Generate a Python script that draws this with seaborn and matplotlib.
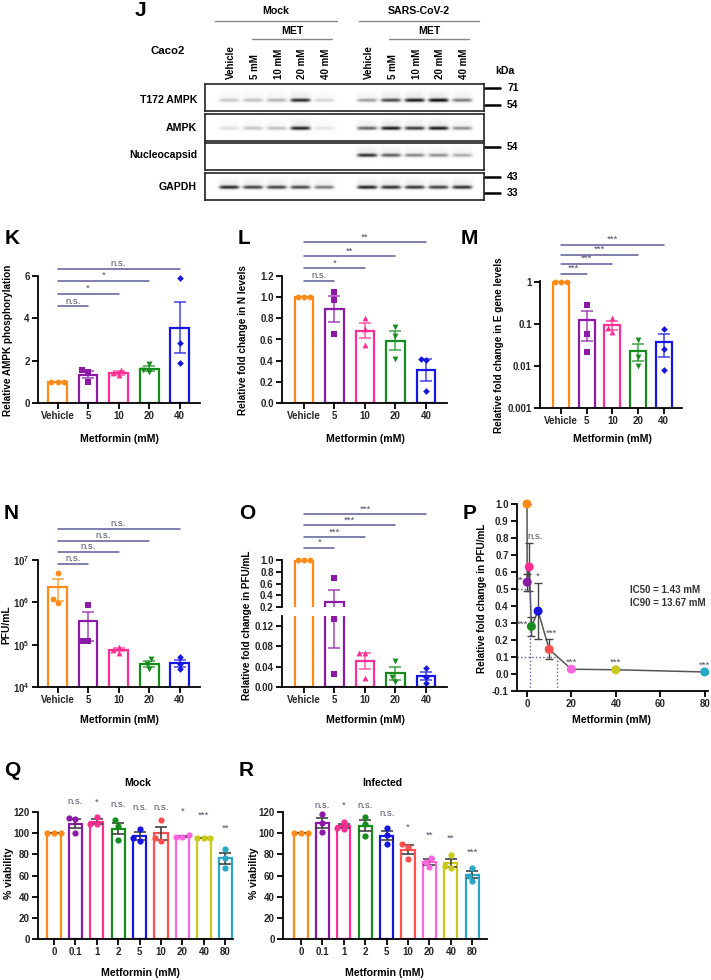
import numpy as np
import pandas as pd
import matplotlib
matplotlib.use("Agg")
import matplotlib.pyplot as plt
import seaborn as sns
from matplotlib.ticker import NullLocator

W, H = 711, 980

# ---------------- data ----------------
# J: band intensities (0 = none, 1 = strongest); 5 Mock lanes then 5 SARS-CoV-2 lanes
lane_names = ["Vehicle", "5 mM", "10 mM", "20 mM", "40 mM"]
blot_rows = ["T172 AMPK", "AMPK", "Nucleocapsid", "GAPDH"]
band_t172 = [0.35, 0.38, 0.42, 0.90, 0.28, 0.50, 0.80, 0.95, 1.00, 0.62]
band_ampk = [0.22, 0.35, 0.38, 0.92, 0.20, 0.70, 0.95, 0.85, 0.95, 0.55]
band_nucleo = [0.0, 0.0, 0.0, 0.0, 0.0, 0.88, 0.72, 0.58, 0.55, 0.45]
band_gapdh = [0.90, 0.82, 0.82, 0.80, 0.62, 0.92, 0.88, 0.86, 0.82, 0.88]
kda_labels = ["71", "54", "54", "43", "33"]

# K-O: three replicates per group
met_groups = ["Vehicle", "5", "10", "20", "40"]
ampk_phos = [[1.0, 1.0, 1.0], [1.55, 1.0, 1.45], [1.55, 1.3, 1.4], [1.85, 1.45, 1.55], [5.9, 2.85, 1.9]]
n_levels = [[1.0, 1.0, 1.0], [1.05, 0.97, 0.65], [0.80, 0.70, 0.55], [0.72, 0.63, 0.42], [0.42, 0.41, 0.11]]
e_gene = [[1.0, 1.0, 1.0], [0.28, 0.057, 0.021], [0.14, 0.08, 0.065], [0.042, 0.016, 0.010], [0.076, 0.025, 0.008]]
pfu = [[4.8e6, 1.2e6, 0.97e6], [8.5e5, 1.23e5, 1.2e5], [9.0e4, 7.5e4, 6.5e4], [4.5e4, 3.5e4, 2.6e4], [5.0e4, 3.5e4, 2.6e4]]
pfu_fold = [[1.0, 1.0, 1.0], [0.69, 0.135, 0.025], [0.068, 0.068, 0.018], [0.052, 0.020, 0.010], [0.037, 0.020, 0.008]]

# P: dose response
dose_mm = [0, 0.1, 1, 2, 5, 10, 20, 40, 80]
dose_mean = [1.0, 0.54, 0.63, 0.28, 0.37, 0.145, 0.028, 0.025, 0.012]
dose_sem = [0.0, 0.05, 0.14, 0.055, 0.165, 0.058, 0.004, 0.004, 0.004]
dose_sig = ["", "**", "n.s.", "***", "*", "***", "***", "***", "***"]
ic50, ic90 = 1.43, 13.67

# Q, R: viability
dose_labels = ["0", "0.1", "1", "2", "5", "10", "20", "40", "80"]
via_mock = [[100, 100, 100], [114, 113, 100], [115, 109, 109], [112, 107, 94], [104, 95, 93],
            [112, 95, 93], [98, 96, 96], [95, 95, 95], [85, 77, 67]]
via_inf = [[100, 100, 100], [118, 110, 101], [111, 105, 104], [115, 109, 97], [105, 98, 90],
           [90, 87, 76], [77, 73, 68], [79, 69, 67], [67, 60, 55]]
sig_mock = ["n.s.", "*", "n.s.", "n.s.", "n.s.", "*", "***", "**"]
sig_inf = ["n.s.", "*", "n.s.", "n.s.", "*", "**", "**", "***"]

met_colors = ["#FF8C1A", "#8B1BA6", "#FF2E93", "#168C1E", "#1616E0"]
met_markers = ["o", "s", "^", "v", "D"]
dose_colors = ["#FF8C1A", "#8B1BA6", "#FF2E93", "#168C1E", "#1616E0",
               "#FF4F4F", "#FF66E0", "#C9C91A", "#29A8C6"]
LINE_C = "#5c5c99"
SIG_C = "#50506a"
SIG_FS = 6.8

sns.set_theme(style="ticks")
plt.rcParams["font.family"] = ["Liberation Sans", "DejaVu Sans"]
plt.rcParams["font.weight"] = "bold"
plt.rcParams["axes.labelweight"] = "bold"
plt.rcParams["mathtext.fontset"] = "custom"
plt.rcParams["mathtext.rm"] = "Liberation Sans"
plt.rcParams["mathtext.bf"] = "Liberation Sans:bold"
plt.rcParams["axes.linewidth"] = 1.3

fig = plt.figure(figsize=(W / 100, H / 100), dpi=100)


def px_ax(l, t, r, b):
    return fig.add_axes([l / W, 1 - b / H, (r - l) / W, (b - t) / H])


def style_ax(ax):
    sns.despine(ax=ax)
    ax.tick_params(axis="both", length=4, width=1.3, labelsize=7, pad=2, color="black")
    for s in ax.spines.values():
        s.set_color("black")
    ax.set_xlabel("")
    ax.set_ylabel("")


def bar_panel(ax, labels, reps, colors, markers, err_color=None, log=False, keep=None, size=4.2):
    means = [np.mean(r) for r in reps]
    sems = [np.std(r, ddof=1) / np.sqrt(len(r)) for r in reps]
    sns.barplot(x=labels, y=means, hue=labels, order=labels, hue_order=labels, palette=colors,
                fill=False, errorbar=None, width=0.62, linewidth=1.6, legend=False, ax=ax)
    if log:
        ax.set_yscale("log")
    for i in range(len(labels)):
        ec = colors[i] if err_color is None else err_color
        ax.errorbar(i, means[i], yerr=sems[i], fmt="none", ecolor=ec, elinewidth=1.1,
                    capsize=4, capthick=1.1, alpha=0.8 if err_color is None else 1)
    pts = pd.DataFrame({"g": np.repeat(labels, [len(r) for r in reps]), "v": np.concatenate(reps)})
    if keep is not None:
        pts = pts[(pts.v >= keep[0]) & (pts.v <= keep[1])]
    n0 = len(ax.collections)
    for i, g in enumerate(labels):
        sub = pts[pts.g == g]
        if sub.empty:
            continue
        sns.swarmplot(data=sub, x="g", y="v", order=labels, color=colors[i], marker=markers[i],
                      size=size if markers[i] != "D" else size - 0.8, linewidth=0, ax=ax)
    for c in ax.collections[n0:]:
        c.set_clip_on(False)
    style_ax(ax)


def brackets(ax, texts, ys):
    for i, (t, y) in enumerate(zip(texts, ys)):
        ax.plot([0, i + 1], [y, y], color=LINE_C, lw=1.1, clip_on=False)
        ax.annotate(t, (0.5 * (i + 1), y), xytext=(0, 0.5), textcoords="offset points",
                    ha="center", va="bottom", fontsize=SIG_FS, fontweight="normal", color=SIG_C,
                    annotation_clip=False)


# overlay for free text in pixel coordinates
ov = fig.add_axes([0, 0, 1, 1], zorder=10)
ov.set_xlim(0, W)
ov.set_ylim(H, 0)
ov.axis("off")
ov.patch.set_alpha(0)


def label(x, y, s, size=7.6, rot=0, ha="center", va="center", weight="bold", color="black"):
    ov.text(x, y, s, fontsize=size, rotation=rot, ha=ha, va=va, fontweight=weight, color=color)


# ---------------- J: western blot ----------------
lane_px = np.r_[np.linspace(229, 324, 5), np.linspace(367, 462, 5)]
strips = [(84, 111, 100, band_t172), (114, 141, 128, band_ampk),
          (143, 170, 155, band_nucleo), (173, 200, 187, band_gapdh)]
for (top, bot, yc, intens), name in zip(strips, blot_rows):
    ax = px_ax(205, top, 484, bot)
    xs = np.arange(205, 484, 0.5)
    ys = np.arange(top, bot, 0.5)
    X, Y = np.meshgrid(xs, ys)
    img = np.zeros_like(X)
    for xc, a in zip(lane_px, intens):
        prof_x = np.exp(-((X - xc) / 10.5) ** 6)
        prof_y = np.exp(-((Y - yc) / 2.0) ** 2) + 0.15 * np.exp(-((Y - yc + 5) / 4.0) ** 2)
        img += a * prof_x * prof_y
    ax.imshow(img, cmap="Greys", vmin=0, vmax=1.05, extent=(205, 484, bot, top),
              aspect="auto", interpolation="bilinear")
    ax.set_xlim(205, 484)
    ax.set_ylim(bot, top)
    ax.set_xticks([])
    ax.set_yticks([])
    for s in ax.spines.values():
        s.set_linewidth(1.2)
        s.set_color("#222222")
    label(197, yc, name, ha="right")

label(140, 10, "J", size=15)
label(168, 51, "Caco2", size=8.2)
for x0, x1, x2, x3, title in [(215, 337, 252, 332, "Mock"), (359, 479, 389, 469, "SARS-CoV-2")]:
    label((x0 + x1) / 2, 11, title)
    ov.plot([x0, x1], [21, 21], color="#888888", lw=1)
    label((x2 + x3) / 2, 31, "MET")
    ov.plot([x2, x3], [39, 39], color="#888888", lw=1)
for x, name in zip(lane_px, lane_names * 2):
    label(x + 2, 79, name, size=7, rot=90, va="bottom")
label(505, 71, "kDa")
for y, k in zip([88, 105, 147, 177, 193], kda_labels):
    ov.plot([485, 500], [y, y], color="black", lw=1.8)
    label(507, y, k, ha="left", size=7.4)

# ---------------- K ----------------
axK = px_ax(38, 276, 200, 403)
bar_panel(axK, met_groups, ampk_phos, met_colors, met_markers)
axK.set_ylim(0, 6)
axK.set_yticks([0, 2, 4, 6])
axK.set_xlim(-0.64, 4.67)
brackets(axK, ["n.s.", "*", "*", "n.s."], [4.56, 5.16, 5.77, 6.33])
label(12, 238, "K", size=15)
label(8, 340, "Relative AMPK phosphorylation", size=7.2, rot=90)
label(119, 439, "Metformin (mM)")

# ---------------- L ----------------
axL = px_ax(282, 276, 447, 403)
bar_panel(axL, met_groups, n_levels, met_colors, met_markers)
axL.set_ylim(0, 1.2)
axL.set_yticks(np.arange(0, 1.21, 0.2))
axL.set_yticklabels([f"{v:.1f}" for v in np.arange(0, 1.21, 0.2)])
axL.set_xlim(-0.72, 4.69)
brackets(axL, ["n.s.", "*", "**", "**"], [1.153, 1.276, 1.389, 1.521])
label(244, 238, "L", size=15)
label(243, 340, "Relative fold change in N levels", size=7.2, rot=90)
label(365, 439, "Metformin (mM)")

# ---------------- M ----------------
axM = px_ax(540, 281, 682, 408)
bar_panel(axM, met_groups, e_gene, met_colors, met_markers, log=True)
axM.set_ylim(0.001, 1.03)
axM.set_yticks([0.001, 0.01, 0.1, 1])
axM.set_yticklabels(["0.001", "0.01", "0.1", "1"])
axM.yaxis.set_minor_locator(NullLocator())
axM.set_xlim(-0.82, 4.71)
brackets(axM, ["***"] * 4, [1.55, 2.66, 4.36, 7.5])
label(469, 238, "M", size=15)
label(499, 345, "Relative fold change in E gene levels", size=7.2, rot=90)
label(612, 439, "Metformin (mM)")

# ---------------- N ----------------
axN = px_ax(38, 560, 200, 687)
bar_panel(axN, met_groups, pfu, met_colors, met_markers, log=True)
axN.set_ylim(1e4, 1e7)
axN.set_yticks([1e4, 1e5, 1e6, 1e7])
axN.set_yticklabels([r"$\mathbf{10^{%d}}$" % e for e in [4, 5, 6, 7]])
axN.yaxis.set_minor_locator(NullLocator())
axN.set_xlim(-0.64, 4.67)
brackets(axN, ["n.s."] * 4, [8.0e6, 1.55e7, 2.8e7, 5.4e7])
label(11, 513, "N", size=15)
label(6, 625, "PFU/mL", size=7.4, rot=90)
label(119, 720, "Metformin (mM)")

# ---------------- O (broken axis) ----------------
axOu = px_ax(282, 560, 447, 607)
axOl = px_ax(282, 616, 447, 687)
bar_panel(axOu, met_groups, pfu_fold, met_colors, met_markers, keep=(0.2, 1.01))
bar_panel(axOl, met_groups, pfu_fold, met_colors, met_markers, keep=(0.0, 0.14))
axOu.set_ylim(0.2, 1.0)
axOu.set_yticks([0.2, 0.4, 0.6, 0.8, 1.0])
axOu.set_yticklabels(["0.2", "0.4", "0.6", "0.8", "1.0"])
axOu.spines["bottom"].set_visible(False)
axOu.tick_params(axis="x", bottom=False, labelbottom=False)
axOl.set_ylim(0, 0.14)
axOl.set_yticks([0, 0.04, 0.08, 0.12])
axOl.set_yticklabels(["0.00", "0.04", "0.08", "0.12"])
for a in (axOu, axOl):
    a.set_xlim(-0.72, 4.69)
brackets(axOu, ["*", "***", "***", "***"], [1.209, 1.383, 1.591, 1.783])
label(247, 513, "O", size=15)
label(247, 625, "Relative fold change in PFU/mL", size=7.2, rot=90)
label(365, 720, "Metformin (mM)")

# ---------------- P ----------------
axP = px_ax(517, 504, 708, 691)
sns.lineplot(x=dose_mm, y=dose_mean, color="#555555", lw=1.1, ax=axP)
axP.errorbar(dose_mm, dose_mean, yerr=dose_sem, fmt="none", ecolor="#444444",
             elinewidth=1, capsize=3, capthick=1)
sns.scatterplot(x=dose_mm, y=dose_mean, hue=dose_labels, hue_order=dose_labels,
                palette=dose_colors, s=42, linewidth=0, legend=False, clip_on=False,
                zorder=3, ax=axP)
axP.plot([-4.5, ic50], [0.5, 0.5], ls=":", color=LINE_C, lw=1)
axP.plot([ic50, ic50], [-0.1, 0.5], ls=":", color=LINE_C, lw=1)
axP.plot([-4.5, ic90], [0.1, 0.1], ls=":", color=LINE_C, lw=1)
axP.plot([ic90, ic90], [-0.1, 0.1], ls=":", color=LINE_C, lw=1)
for x, m, s, t in zip(dose_mm, dose_mean, dose_sem, dose_sig):
    if not t:
        continue
    if t == "n.s.":
        axP.text(0.4, m + s + 0.01, t, ha="left", va="bottom", fontsize=SIG_FS,
                 fontweight="normal", color=SIG_C)
    elif x in (0.1, 2):
        axP.text(x - 1.6, m + 0.01, t, ha="right", va="center", fontsize=SIG_FS,
                 fontweight="normal", color=SIG_C)
    else:
        axP.text(x + (1 if x == 10 else 0), m + s + 0.012, t, ha="center", va="bottom",
                 fontsize=SIG_FS, fontweight="normal", color=SIG_C)
axP.text(46.5, 0.455, f"IC50 = {ic50} mM\nIC90 = {ic90} mM", ha="left", va="center",
         fontsize=7, color="#333333", linespacing=1.35)
axP.set_xlim(-4.5, 81.5)
axP.set_ylim(-0.1, 1.0)
axP.set_xticks([0, 20, 40, 60, 80])
axP.set_yticks(np.arange(-0.1, 1.01, 0.1))
axP.set_yticklabels([f"{v:.1f}" for v in np.arange(-0.1, 1.01, 0.1)])
style_ax(axP)
label(470, 513, "P", size=15)
label(482, 598, "Relative fold change in PFU/mL", size=7.2, rot=90)
label(611, 720, "Metformin (mM)")

# ---------------- Q, R ----------------
q_sig_y = [129.5, 129.5, 126.7, 123.8, 123.8, 121, 117, 105]
r_sig_y = [126.6, 126.6, 126.6, 119, 106, 97.6, 95.2, 81.6]
for (l, r, xlim_l, xlim_r), reps, sigs, sig_y, title, tx, letter, lx in [
        ((38, 233, -0.75, 8.36), via_mock, sig_mock, q_sig_y, "Mock", 138, "Q", 12),
        ((283, 487, -0.84, 8.69), via_inf, sig_inf, r_sig_y, "Infected", 382, "R", 246)]:
    ax = px_ax(l, 812, r, 939)
    bar_panel(ax, dose_labels, reps, dose_colors, ["o"] * 9, err_color="#333333", size=4.5)
    ax.set_ylim(0, 120)
    ax.set_yticks(range(0, 121, 20))
    ax.set_xlim(xlim_l, xlim_r)
    for i, (t, y) in enumerate(zip(sigs, sig_y)):
        ax.text(i + 1, y, t, ha="center", va="center", fontsize=SIG_FS, fontweight="normal",
                color=SIG_C, clip_on=False)
    label(lx, 770, letter, size=15)
    label(tx, 783, title)
    label(l - 29, 873, "% viability", size=7.6, rot=90)
    label(tx + 2, 973, "Metformin (mM)")

fig.savefig("out.png", dpi=100)
